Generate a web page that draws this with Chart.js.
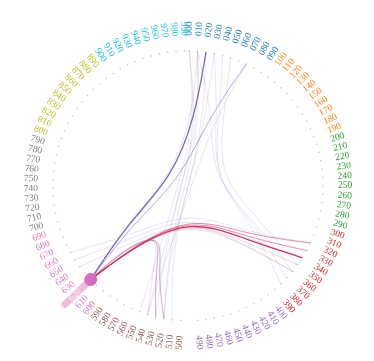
<!DOCTYPE html>
<html>
<head>
<meta charset="utf-8">
<script src="https://cdn.jsdelivr.net/npm/chart.js@4.4.1/dist/chart.umd.min.js"></script>
<style>
  html, body { margin: 0; padding: 0; background: #fff; }
  #wrap { width: 374px; height: 361px; }
</style>
</head>
<body>
<div id="wrap"><canvas id="edgeChart"></canvas></div>
<script>
// groups of leaves, one colour each
const groupColors = ['#1f77b4', '#ff7f0e', '#2ca02c', '#d62728', '#9467bd',
                     '#8c564b', '#e377c2', '#7f7f7f', '#bcbd22', '#17becf'];

const nodeLabels = [
  ['000', '010', '020', '030', '040', '050', '060', '070', '080', '090'],
  ['100', '110', '120', '130', '140', '150', '160', '170', '180', '190'],
  ['200', '210', '220', '230', '240', '250', '260', '270', '280', '290'],
  ['300', '310', '320', '330', '340', '350', '360', '370', '380', '390'],
  ['400', '410', '420', '430', '440', '450', '460', '470', '480', '490'],
  ['500', '510', '520', '530', '540', '550', '560', '570', '580', '590'],
  ['600', '610', '620', '630', '640', '650', '660', '670', '680', '690'],
  ['700', '710', '720', '730', '740', '750', '760', '770', '780', '790'],
  ['800', '810', '820', '830', '840', '850', '860', '870', '880', '890'],
  ['900', '910', '920', '930', '940', '950', '960', '970', '980', '990']
];

// [source, target, strength 1..3]
const links = [
  ['620', '020', 3],
  ['620', '340', 3],
  ['620', '330', 2],
  ['620', '320', 2],
  ['620', '350', 1],
  ['620', '360', 1],
  ['620', '070', 2],
  ['620', '010', 1],
  ['620', '530', 2],
  ['620', '520', 2],
  ['620', '540', 1],
  ['000', '530', 1],
  ['010', '520', 1],
  ['010', '540', 1],
  ['020', '510', 1],
  ['000', '550', 1],
  ['070', '540', 1],
  ['010', '360', 1],
  ['030', '370', 1],
  ['040', '380', 1],
  ['050', '350', 1],
  ['650', '340', 1],
  ['660', '320', 1],
  ['640', '360', 1],
  ['030', '520', 1]
];

const focusNode = '620';
const focusBar = 37;

// edges of the focused leaf take the colour of the group they run to,
// all other edges stay a pale lavender
const edgeColors = { 0: '#6a5bc2', 3: '#cc2553', 5: '#a65a96' };
const otherEdgeColor = '#8a80c4';
const edgeAlpha = [0, 0.22, 0.5, 0.92];
const edgeWidth = [0, 0.9, 1, 1.3];

// layout
const R = 140;
const LABEL_GAP = 10;
const START_DEG = 0.5;
const STEP_DEG = 3.58;
const EXTRA_GAP_BEFORE_GROUP = 5;
const BETA = 0.6;

const leaves = [];
nodeLabels.forEach((list, g) => {
  list.forEach((name, j) => {
    const k = g * 10 + j + (g >= EXTRA_GAP_BEFORE_GROUP ? 1 : 0);
    leaves.push({ name, group: g, angle: (START_DEG + STEP_DEG * k) * Math.PI / 180 });
  });
});
const leafByName = {};
leaves.forEach(l => { leafByName[l.name] = l; });
const groupAngle = groupColors.map((c, g) => {
  const ls = leaves.filter(l => l.group === g);
  return ls.reduce((s, l) => s + l.angle, 0) / ls.length;
});

function polar(a, r) {
  return { x: r * Math.sin(a), y: r * Math.cos(a) };
}

function hexA(hex, a) {
  const n = parseInt(hex.slice(1), 16);
  return `rgba(${n >> 16},${(n >> 8) & 255},${n & 255},${a})`;
}

function drawBundle(ctx, pts) {
  const n = pts.length - 1;
  const p0 = pts[0], pn = pts[n];
  const q = pts.map((p, i) => ({
    x: BETA * p.x + (1 - BETA) * (p0.x + i / n * (pn.x - p0.x)),
    y: BETA * p.y + (1 - BETA) * (p0.y + i / n * (pn.y - p0.y))
  }));
  let x0 = q[0].x, y0 = q[0].y, x1 = q[1].x, y1 = q[1].y;
  ctx.moveTo(x0, y0);
  ctx.lineTo((5 * x0 + x1) / 6, (5 * y0 + y1) / 6);
  for (let i = 2; i < q.length; i++) {
    const x = q[i].x, y = q[i].y;
    ctx.bezierCurveTo((2 * x0 + x1) / 3, (2 * y0 + y1) / 3, (x0 + 2 * x1) / 3, (y0 + 2 * y1) / 3,
                      (x0 + 4 * x1 + x) / 6, (y0 + 4 * y1 + y) / 6);
    x0 = x1; y0 = y1; x1 = x; y1 = y;
  }
  ctx.bezierCurveTo((2 * x0 + x1) / 3, (2 * y0 + y1) / 3, (x0 + 2 * x1) / 3, (y0 + 2 * y1) / 3,
                    (x0 + 5 * x1) / 6, (y0 + 5 * y1) / 6);
  ctx.lineTo(x1, y1);
}

const edgePlugin = {
  id: 'edges',
  beforeDatasetsDraw(chart) {
    const ctx = chart.ctx;
    const xs = chart.scales.x, ys = chart.scales.y;
    const px = p => ({ x: xs.getPixelForValue(p.x), y: ys.getPixelForValue(p.y) });
    const cx = xs.getPixelForValue(0), cy = ys.getPixelForValue(0);

    // edges, weakest first
    const sorted = links.slice().sort((a, b) => a[2] - b[2]);
    sorted.forEach(([s, t, w]) => {
      const a = leafByName[s], b = leafByName[t];
      let path;
      if (a.group === b.group) {
        path = [polar(a.angle, R), polar(groupAngle[a.group], R / 2), polar(b.angle, R)];
      } else {
        path = [polar(a.angle, R), polar(groupAngle[a.group], R / 2), { x: 0, y: 0 },
                polar(groupAngle[b.group], R / 2), polar(b.angle, R)];
      }
      const pts = path.map(px);
      const col = s === focusNode ? (edgeColors[b.group] || groupColors[b.group]) : otherEdgeColor;
      ctx.save();
      ctx.beginPath();
      drawBundle(ctx, pts);
      ctx.strokeStyle = hexA(col, edgeAlpha[w]);
      ctx.lineWidth = edgeWidth[w];
      ctx.stroke();
      ctx.restore();
    });

    // bar on the focused leaf
    const f = leafByName[focusNode];
    const b0 = px(polar(f.angle, R)), b1 = px(polar(f.angle, R + focusBar));
    ctx.save();
    ctx.beginPath();
    ctx.moveTo(b0.x, b0.y);
    ctx.lineTo(b1.x, b1.y);
    ctx.strokeStyle = hexA(groupColors[6], 0.5);
    ctx.lineWidth = 7;
    ctx.lineCap = 'round';
    ctx.stroke();
    ctx.restore();

    // labels
    ctx.save();
    ctx.font = '9.5px "Liberation Serif", "DejaVu Serif", serif';
    ctx.textBaseline = 'middle';
    leaves.forEach(l => {
      ctx.save();
      ctx.translate(cx, cy);
      ctx.rotate(l.angle - Math.PI / 2);
      ctx.translate(R, 0);
      ctx.fillStyle = l.name === focusNode ? 'rgba(255,255,255,0.75)' : groupColors[l.group];
      if (l.angle < Math.PI) {
        ctx.textAlign = 'left';
        ctx.fillText(l.name, LABEL_GAP, 0);
      } else {
        ctx.rotate(Math.PI);
        ctx.textAlign = 'right';
        ctx.fillText(l.name, -LABEL_GAP, 0);
      }
      ctx.restore();
    });
    ctx.restore();
  }
};

const leafPoints = leaves.map(l => polar(l.angle, R));
const focusPoint = [polar(leafByName[focusNode].angle, R)];

new Chart(document.getElementById('edgeChart'), {
  type: 'scatter',
  data: {
    datasets: [
      {
        data: leafPoints,
        pointRadius: 0.8,
        pointBorderWidth: 0,
        pointBackgroundColor: 'rgba(160,160,160,0.6)'
      },
      {
        data: focusPoint,
        pointRadius: 6.5,
        pointBorderWidth: 0,
        pointBackgroundColor: '#d96bc3'
      }
    ]
  },
  options: {
    responsive: true,
    maintainAspectRatio: false,
    animation: false,
    events: [],
    layout: { padding: 0 },
    plugins: { legend: { display: false }, tooltip: { enabled: false } },
    scales: {
      x: { type: 'linear', display: false, min: -188, max: 186 },
      y: { type: 'linear', display: false, min: -175, max: 186 }
    }
  },
  plugins: [edgePlugin]
});
</script>
</body>
</html>
